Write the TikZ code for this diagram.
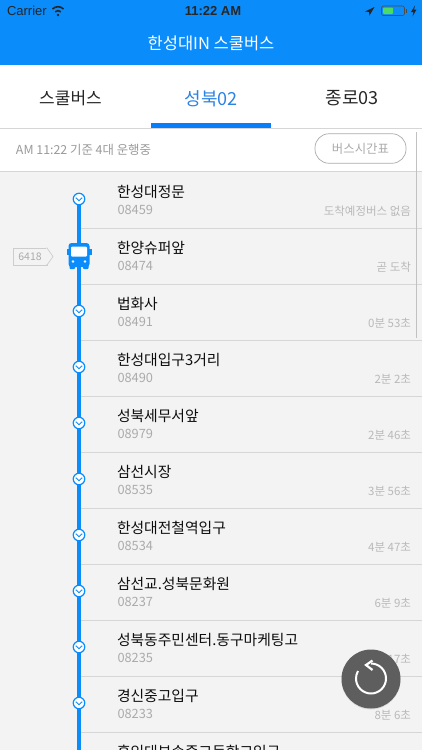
\documentclass[tikz,border=0pt]{standalone}
\usepackage{fontspec}
\setmainfont{Noto Sans CJK KR}
\newfontfamily\statusfont{Liberation Sans}
\usetikzlibrary{shadows,arrows.meta}
\definecolor{appblue}{HTML}{0A8CFB}
\definecolor{tabblue}{HTML}{2B83E3}
\definecolor{rowgray}{HTML}{F3F3F3}
\definecolor{rulegray}{HTML}{D6D6D6}
\definecolor{codegray}{HTML}{ABABAB}
\definecolor{etagray}{HTML}{B9B9B9}
\definecolor{refreshgray}{HTML}{5E5E5E}
\definecolor{batterygreen}{HTML}{4CD964}
\tikzset{every node/.style = {inner sep = 0pt, outer sep = 0pt},
         fsize/.style = {font = \fontsize{#1}{#1}\selectfont},
         statustext/.style = {font = \statusfont\fontsize{13}{13}\selectfont, text = black!85},
         tabtext/.style = {fsize = 17, text = black!85},
         stoptitle/.style = {fsize = 14.8, text = black!95, anchor = west},
         stopcode/.style = {fsize = 12.8, text = codegray, anchor = west},
         stopeta/.style = {fsize = 11.5, text = etagray, anchor = east},
         rowrule/.style = {draw = rulegray, line width = 1pt},
         routeline/.style = {draw = appblue, line width = 4pt},
         stopdot/.style = {circle, draw = appblue, fill = white, line width = 1.2pt, minimum size = 11.5pt},
         chevron/.style = {draw = appblue, line width = .9pt}
        }

\begin{document}
\begin{tikzpicture}[x=1pt, y=-1pt]
  \path[use as bounding box, clip] (0,0) rectangle (422,750);
  \fill[rowgray] (0,0) rectangle (422,750);
  % top bars
  \fill[appblue] (0,0) rectangle (422,65);
  \fill[white] (0,65) rectangle (422,171);
  \node[statustext, anchor = west] (carrier) at (7,11) {Carrier};
  \node[statustext, font = \statusfont\bfseries\fontsize{13}{13}\selectfont] (clock) at (213,11) {11:22 AM};
  \draw[black!85, line width = 1.6pt] (52.5,9) arc[start angle = 135, end angle = 45, radius = 7.8pt];
  \draw[black!85, line width = 1.6pt] (55.2,11.8) arc[start angle = 135, end angle = 45, radius = 4pt];
  \fill[black!85] (58,15) circle (1.4pt);
  \fill[black!85] (374.5,7) -- (365,11.5) -- (369,12) -- (369.5,15.5) -- cycle;
  \draw[black!70, line width = .6pt, rounded corners = 2pt] (381.5,6) rectangle (404.5,15.5);
  \fill[black!70] (405.5,9) rectangle (406.5,12.5);
  \fill[batterygreen, rounded corners = 1pt] (383,7.5) rectangle (393,14);
  \fill[black!85] (415,5.5) -- (411,12) -- (413.5,12) -- (412.5,16.5) -- (416.5,9.5) -- (414,9.5) -- cycle;
  \node[fsize = 16.5, text = white] (apptitle) at (211,43) {한성대IN 스쿨버스};
  % tabs
  \node[tabtext] (tabschool) at (70.5,98.5) {스쿨버스};
  \node[tabtext, fsize = 18, text = tabblue] (tabseongbuk) at (211,98.5) {성북02};
  \node[tabtext, fsize = 18] (tabjongno) at (352,98.5) {종로03};
  \fill[rulegray] (0,128) rectangle (422,129);
  \fill[appblue!90!blue] (151,123) rectangle (271,128);
  % status row
  \node[fsize = 12.4, text = codegray!90!black, anchor = west] (runinfo) at (16,149.5) {AM 11:22 기준 4대 운행중};
  \node[draw = codegray, line width = .7pt, rounded corners = 14pt, minimum width = 91pt, minimum height = 29.5pt,
        fsize = 12.4, text = codegray] (timetable) at (360.5,148.5) {버스시간표};
  \draw[rowrule] (0,171.5) -- (422,171.5);
  % route and stops
  \coordinate (routetop) at (79,199);
  \coordinate (routeend) at (79,750);
  \foreach \i/\stoptext/\stopno/\stopeta in {
      1/한성대정문/08459/도착예정버스 없음,
      2/한양슈퍼앞/08474/곧 도착,
      3/법화사/08491/0분 53초,
      4/한성대입구3거리/08490/2분 2초,
      5/성북세무서앞/08979/2분 46초,
      6/삼선시장/08535/3분 56초,
      7/한성대전철역입구/08534/4분 47초,
      8/삼선교.성북문화원/08237/6분 9초,
      9/성북동주민센터.동구마케팅고/08235/7분 17초,
      10/경신중고입구/08233/8분 6초} {
    \pgfmathsetmacro{\rowy}{171 + 56*(\i-1)}
    \node[stoptitle] (title\i) at (117,\rowy+20.5) {\stoptext};
    \node[stopcode] (code\i) at (117.5,\rowy+39) {\stopno};
    \node[stopeta] (eta\i) at (411,\rowy+40) {\stopeta};
    \draw[rowrule] (79,\rowy+57) -- (422,\rowy+57);
  }
  \node[stoptitle] (title11) at (117,751.5) {홍익대부속중고등학교입구};
  \draw[routeline] (routetop) -- (routeend);
  \foreach \i in {1,3,4,5,6,7,8,9,10} {
    \pgfmathsetmacro{\doty}{199 + 56*(\i-1)}
    \node[stopdot] (stop\i) at (79,\doty) {};
    \draw[chevron] (75.8,\doty-1.3) -- (79,\doty+1.7) -- (82.2,\doty-1.3);
  }
  % bus marker
  \node[draw = codegray!60, fill = rowgray, line width = .7pt, fsize = 10.5, text = codegray, minimum height = 17pt, minimum width = 34pt, anchor = west] (bustag) at (13,256.5) {6418};
  \fill[rowgray] (46,247.7) rectangle (54,265.3);
  \draw[codegray!60, line width = .7pt] (46,248) -- (47,248) -- (53,256.5) -- (47,265) -- (46,265);
  \fill[appblue, rounded corners = 3pt] (68.5,243) rectangle (89.5,267);
  \fill[appblue] (66.5,249) rectangle (68.8,255);
  \fill[appblue] (89.2,249) rectangle (91.5,255);
  \fill[appblue, rounded corners = 1pt] (69.5,265) rectangle (75,269);
  \fill[appblue, rounded corners = 1pt] (83,265) rectangle (88.5,269);
  \fill[white, rounded corners = 1pt] (71,246.5) rectangle (87,256.5);
  \fill[white] (73,261.5) circle (1.3pt);
  \fill[white] (85,261.5) circle (1.3pt);
  \node[minimum size = 0pt] (stop2) at (79,255) {};
  % scroll bar
  \draw[rulegray!90!black, line width = .7pt] (416.5,132) -- (416.5,338);
  % refresh button
  \node[circle, fill = refreshgray, minimum size = 59pt,
        drop shadow = {opacity = .2, shadow xshift = 0pt, shadow yshift = -1pt}] (refresh) at (371,679) {};
  \draw[white, line width = 2pt] (371,663.5) arc[start angle = 90, end angle = -210, radius = 15pt];
  \draw[white, line width = 2.2pt] (372.5,660.5) -- (366,665) -- (372.5,670);
\end{tikzpicture}
\end{document}
